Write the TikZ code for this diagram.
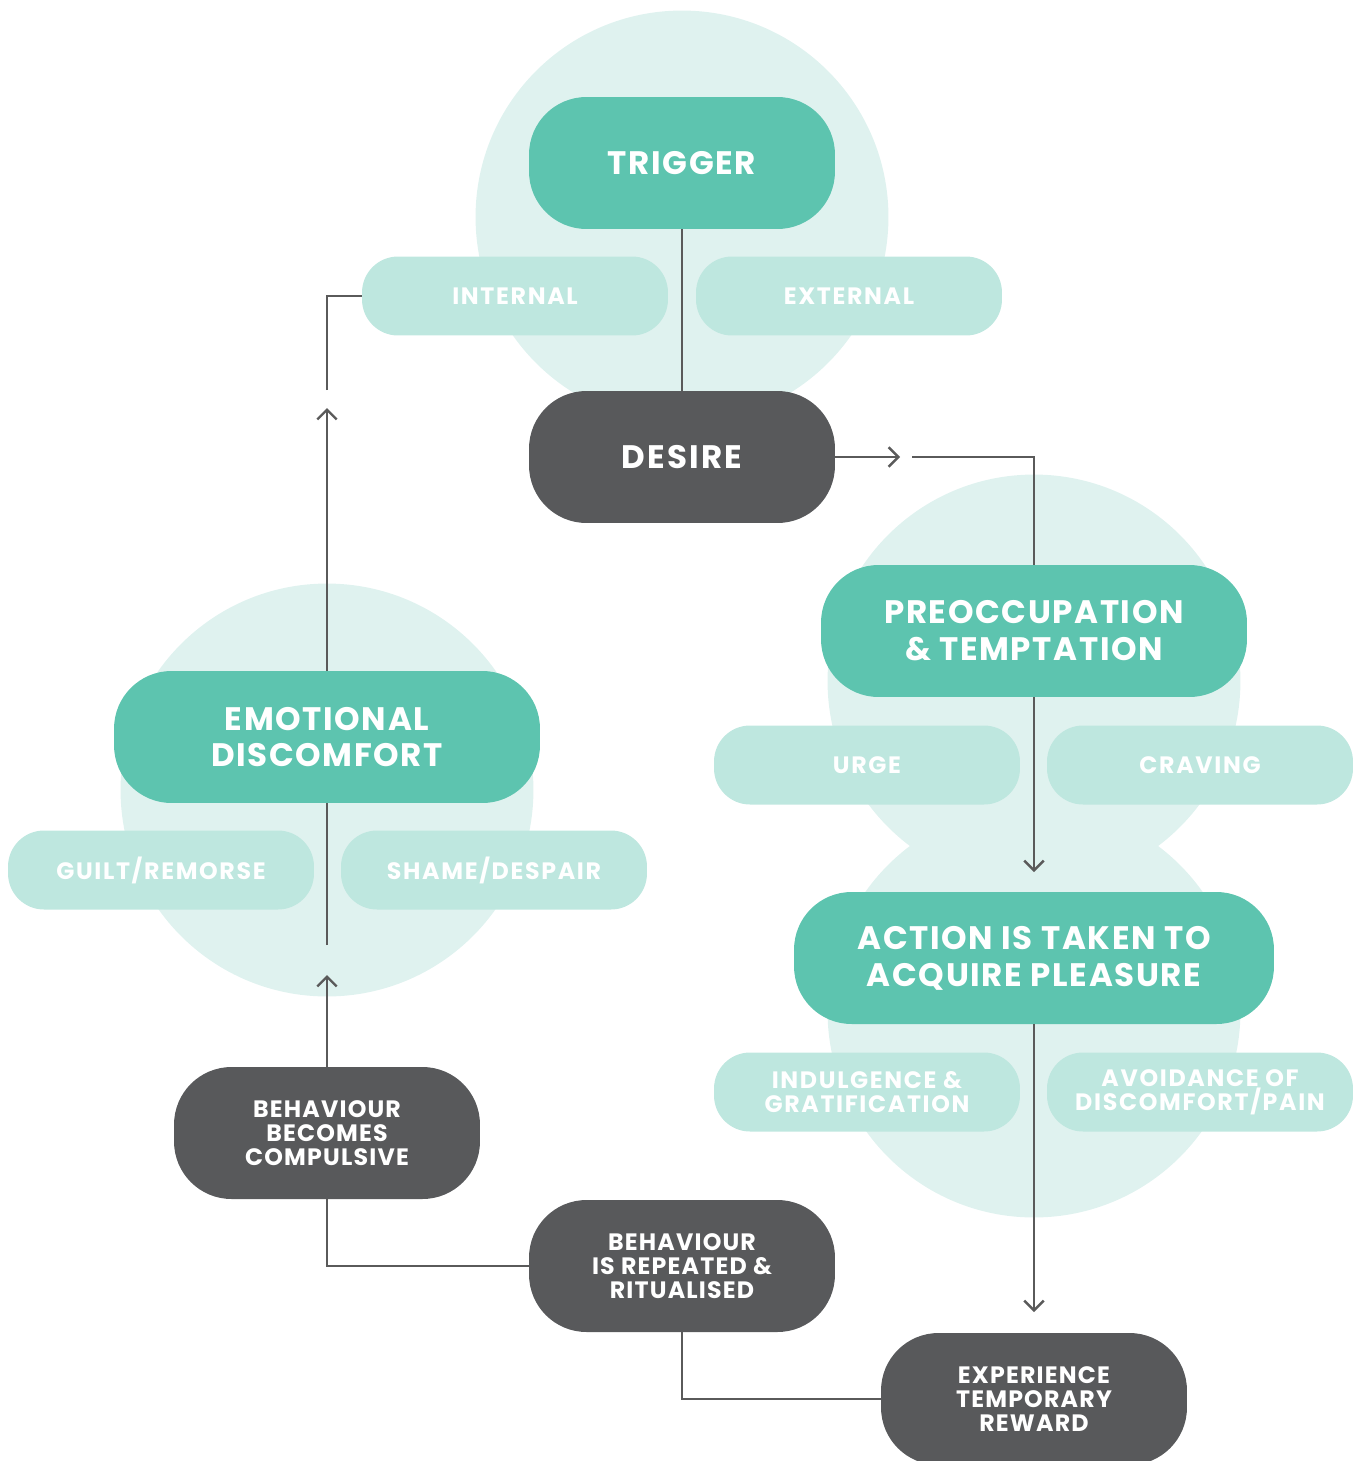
\documentclass[tikz,border=0pt]{standalone}
\usepackage{fontspec}
\setmainfont{Poppins}
\usetikzlibrary{arrows.meta}

\definecolor{tealpill}{HTML}{5DC4AF}
\definecolor{mintpill}{HTML}{BEE7DF}
\definecolor{blobfill}{HTML}{DFF2EF}
\definecolor{darkpill}{HTML}{58595B}
\definecolor{linkgray}{HTML}{5A5A5A}

\begin{document}
\begin{tikzpicture}[
        x=0.02cm, y=-0.02cm,
        pill/.style={rectangle, rounded corners=1.15cm, minimum width=6.12cm, minimum height=2.64cm, inner sep=0pt, align=center, text=white, font=\bfseries\fontsize{13.5}{13.6}\selectfont\addfontfeatures{LetterSpace=5}},
        teal/.style={pill, fill=tealpill, font=\bfseries\fontsize{18.5}{21}\selectfont\addfontfeatures{LetterSpace=5}},
        dark/.style={pill, fill=darkpill},
        tag/.style={pill, fill=mintpill, rounded corners=0.72cm, minimum height=1.58cm, font=\bfseries\fontsize{13.5}{13.6}\selectfont\addfontfeatures{LetterSpace=7}},
        blob/.style={fill=blobfill},
        link/.style={draw=linkgray, line width=1.4pt},
        arrow/.style={link, -{Straight Barb[length=5.5pt, width=11pt]}}
    ]
        \useasboundingbox (0,0) rectangle (1362,1461);

        % background circles
        \fill[blob] (682,217) circle[radius=4.13cm];
        \fill[blob] (1034,681) circle[radius=4.13cm];
        \fill[blob] (1034,1011) circle[radius=4.13cm];
        \fill[blob] (327,790) circle[radius=4.13cm];

        \node[teal] (trigger) at (682,163) {TRIGGER};
        \node[tag] (internal) at (515,296) {INTERNAL};
        \node[tag] (external) at (849,296) {EXTERNAL};
        \node[dark, font=\bfseries\fontsize{18.5}{21}\selectfont\addfontfeatures{LetterSpace=7}] (desire) at (682,457) {DESIRE};

        \node[teal, minimum width=8.52cm] (preocc) at (1034,631) {PREOCCUPATION \\ \& TEMPTATION};
        \node[tag] (urge) at (867,765) {URGE};
        \node[tag] (craving) at (1200,765) {CRAVING};

        \node[teal, minimum width=9.6cm] (action) at (1034,958) {ACTION IS TAKEN TO \\ ACQUIRE PLEASURE};
        \node[tag] (indulge) at (867,1092) {INDULGENCE \& \\ GRATIFICATION};
        \node[tag] (avoid) at (1200,1092) {AVOIDANCE OF \\ DISCOMFORT/PAIN};

        \node[dark] (reward) at (1034,1399) {EXPERIENCE \\ TEMPORARY \\ REWARD};
        \node[dark] (ritual) at (682,1266) {BEHAVIOUR \\ IS REPEATED \& \\ RITUALISED};
        \node[dark] (compulsive) at (327,1133) {BEHAVIOUR \\ BECOMES \\ COMPULSIVE};

        \node[teal, minimum width=8.52cm] (emotional) at (327,737) {EMOTIONAL \\ DISCOMFORT};
        \node[tag] (guilt) at (161,870) {GUILT/REMORSE};
        \node[tag] (shame) at (494,870) {SHAME/DESPAIR};

        % free ends of the broken connectors
        \coordinate (d1) at (900,457);
        \coordinate (d2) at (912,457);
        \coordinate (p1) at (1034,872);
        \coordinate (a1) at (1034,1312);
        \coordinate (c1) at (327,975);
        \coordinate (c2) at (327,945);
        \coordinate (e1) at (327,408);
        \coordinate (e2) at (327,390);

        \draw[link, line width=1.2pt] (trigger.south) -- (desire.north);
        \draw[arrow] (desire.east) -- (d1);
        \draw[link] (d2) -| (preocc.north);
        \draw[arrow] (preocc.south) -- (p1);
        \draw[arrow] (action.south) -- (a1);
        \draw[link] (reward.west) -| (ritual.south);
        \draw[link] (ritual.west) -| (compulsive.south);
        \draw[arrow] (compulsive.north) -- (c1);
        \draw[link] (c2) -- (emotional.south);
        \draw[arrow] (emotional.north) -- (e1);
        \draw[link] (e2) |- (internal.west);
    \end{tikzpicture}
\end{document}
